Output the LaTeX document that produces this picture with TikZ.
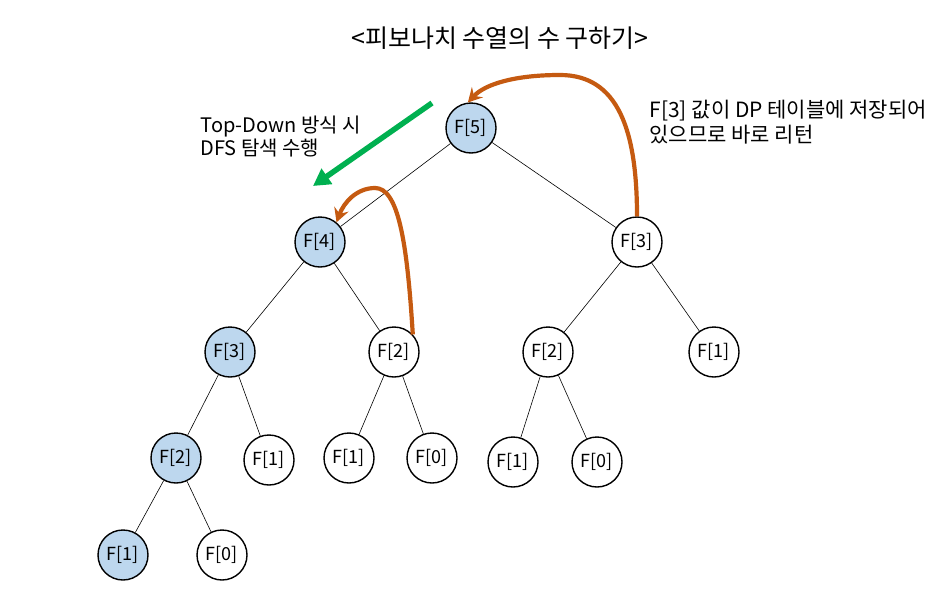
\documentclass[tikz,border=0pt]{standalone}
\usepackage{fontspec}
\setmainfont{Noto Sans CJK KR}
\usetikzlibrary{arrows.meta,positioning}
\definecolor{memo}{HTML}{BDD7EE}
\definecolor{ret}{HTML}{C55A11}
\definecolor{dfs}{HTML}{00B050}

\begin{document}
\begin{tikzpicture}[x=1pt,y=-1pt,
  fib/.style={circle,draw,line width=1.4pt,minimum size=50pt,inner sep=0pt,font=\fontsize{18}{18}\selectfont},
  visit/.style={fib,fill=memo},
  link/.style={line width=0.6pt},
  back/.style={ret,line width=4.2pt,-{Stealth[length=14pt,width=15pt,inset=5pt]}},
  note/.style={align=left,anchor=west}]

\useasboundingbox (0,0) rectangle (949,592);

\node (title) at (500,38) {\fontsize{25}{25}\selectfont <피보나치 수열의 수 구하기>};

\node[visit] (f5)  at (471,128) {F[5]};
\node[visit] (f4)  at (320,242) {F[4]};
\node[fib]   (f3r) at (637,242) {F[3]};
\node[visit] (f3l) at (230,352) {F[3]};
\node[fib]   (f2m) at (394,352) {F[2]};
\node[fib]   (f2r) at (548,352) {F[2]};
\node[fib]   (f1r) at (714,352) {F[1]};
\node[visit] (f2l) at (176,458) {F[2]};
\node[fib]   (f1a) at (269,460) {F[1]};
\node[fib]   (f1b) at (349,458) {F[1]};
\node[fib]   (f0b) at (432,458) {F[0]};
\node[fib]   (f1c) at (513,462) {F[1]};
\node[fib]   (f0c) at (597,462) {F[0]};
\node[visit] (f1d) at (123,555) {F[1]};
\node[fib]   (f0d) at (222,555) {F[0]};

\path[link] (f5) edge (f4)
                 edge (f3r)
            (f4) edge (f3l)
                 edge (f2m)
            (f3r) edge (f2r)
                  edge (f1r)
            (f3l) edge (f2l)
                  edge (f1a)
            (f2m) edge (f1b)
                  edge (f0b)
            (f2r) edge (f1c)
                  edge (f0c)
            (f2l) edge (f1d)
                  edge (f0d);

% DFS direction
\coordinate (gs) at (432,103);
\coordinate (ge) at (313,186);
\draw[dfs,line width=5.5pt,-{Triangle[length=17pt,width=18pt]}] (gs) -- (ge);
\node[note,font=\fontsize{20}{23}\selectfont] (dfstxt) at (197,137) {Top-Down 방식 시\\DFS 탐색 수행};

% memo returns
\draw[back] (f3r.north) .. controls (637,130) and (618,75) .. (560,75)
            .. controls (515,75) and (485,84) .. (f5.97);
\draw[back] (f2m.43) .. controls (407,240) and (398,188) .. (375,188)
            .. controls (357,188) and (344,202) .. (f4.50);
\node[note,font=\fontsize{21}{25}\selectfont] (memotxt) at (646,122) {F[3] 값이 DP 테이블에 저장되어\\있으므로 바로 리턴};

\end{tikzpicture}
\end{document}
